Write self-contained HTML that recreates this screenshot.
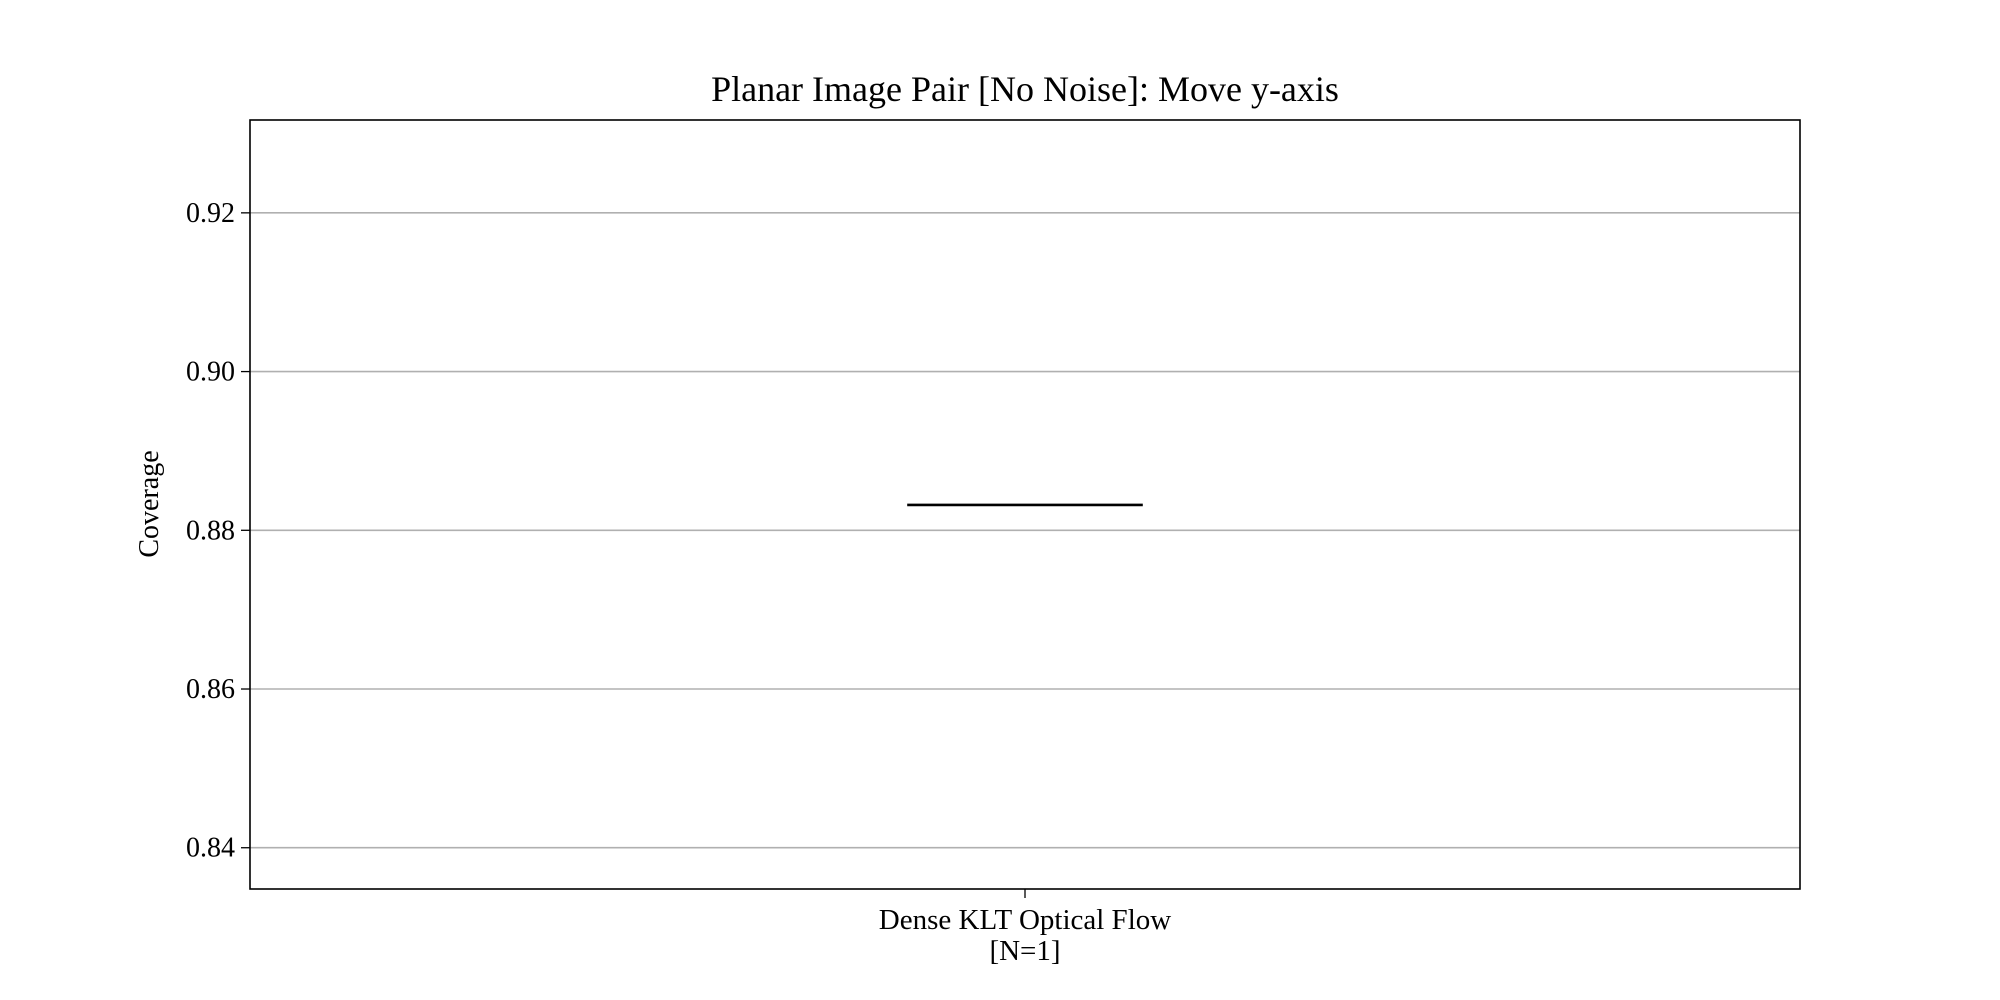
<!DOCTYPE html>
<html><head><meta charset="utf-8"><style>
body{margin:0;background:#fff;}
svg{display:block;font-family:"Liberation Serif",serif;}
</style></head><body>
<svg id="chart" width="2000" height="1000">
<text x="1025" y="101" text-anchor="middle" font-size="36">Planar Image Pair [No Noise]: Move y-axis</text>
<g id="grid"></g>
<g id="marks"></g>
<rect x="250" y="120" width="1550" height="769" fill="none" stroke="#000" stroke-width="1.6"/>
<text transform="translate(158,504) rotate(-90)" text-anchor="middle" font-size="28">Coverage</text>
</svg>
<script>
const yTicks=[0.84,0.86,0.88,0.90,0.92];
const yTickLabels=["0.84","0.86","0.88","0.90","0.92"];
const categories=["Dense KLT Optical Flow"];
const counts=[1];
const medians=[0.8832];
const Y0=0.8348,Y1=0.9317,plotTop=120,plotBot=889,plotLeft=250,plotRight=1800;
const ns="http://www.w3.org/2000/svg";
function yScale(v){return plotBot-(v-Y0)/(Y1-Y0)*(plotBot-plotTop);}
function xScale(i){return plotLeft+(i+0.5)*(plotRight-plotLeft)/categories.length;}
const grid=document.getElementById('grid'),marks=document.getElementById('marks');
function mk(t,a,p){const e=document.createElementNS(ns,t);for(const k in a)e.setAttribute(k,a[k]);p.appendChild(e);return e;}
yTicks.forEach((v,i)=>{
 const g=mk('line',{x1:plotLeft,x2:plotRight,y1:yScale(v),y2:yScale(v),stroke:'#b0b0b0','stroke-width':1.6},grid);
 
 
 const t=mk('line',{x1:plotLeft-9,x2:plotLeft,y1:yScale(v),y2:yScale(v),stroke:'#000','stroke-width':1.3},grid);
 
 
 const l=mk('text',{x:plotLeft-15,y:yScale(v)+9,'text-anchor':'end','font-size':28},grid);
 l.textContent=yTickLabels[i];
 
 
});
categories.forEach((c,i)=>{
 const cx=xScale(i),hw=(plotRight-plotLeft)*0.076;
 const m=mk('line',{x1:cx-hw,x2:cx+hw,y1:yScale(medians[i]),y2:yScale(medians[i]),stroke:'#000','stroke-width':2.6},marks);
 
 
 const t=mk('line',{x1:cx,x2:cx,y1:plotBot,y2:plotBot+9,stroke:'#000','stroke-width':1.3},marks);
 
 
 const l1=mk('text',{x:cx,y:929,'text-anchor':'middle','font-size':29},marks);
 l1.textContent=c;
 
 
 const l2=mk('text',{x:cx,y:960,'text-anchor':'middle','font-size':29},marks);
 l2.textContent='[N='+counts[i]+']';
 
 
});
</script>
</body></html>
